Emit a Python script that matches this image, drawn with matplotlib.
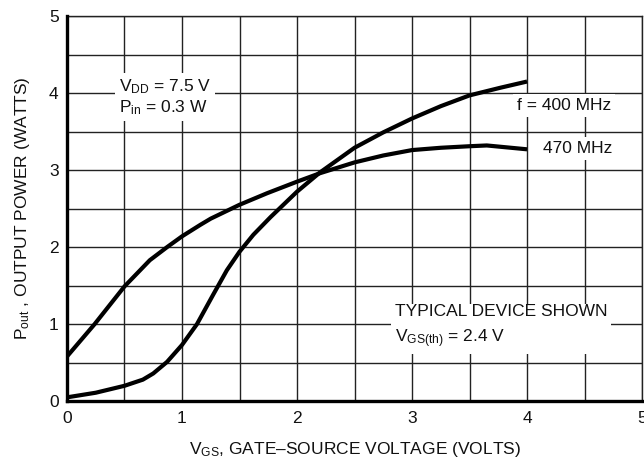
import numpy as np
import matplotlib.pyplot as plt
from matplotlib.ticker import MultipleLocator

plt.rcParams['font.family'] = ['Liberation Sans', 'DejaVu Sans']
plt.rcParams['mathtext.fontset'] = 'custom'
plt.rcParams['mathtext.rm'] = 'Liberation Sans'
plt.rcParams['mathtext.it'] = 'Liberation Sans'

# Output power vs gate-source voltage, two frequencies
vgs_400 = [0.0, 0.25, 0.5, 0.66, 0.75, 0.87, 1.0, 1.13, 1.27, 1.39, 1.5, 1.62, 1.77,
           2.0, 2.2, 2.5, 2.75, 3.0, 3.25, 3.5, 3.77, 4.0]
pout_400 = [0.05, 0.11, 0.20, 0.28, 0.36, 0.51, 0.73, 1.0, 1.38, 1.70, 1.94, 2.16, 2.39,
            2.72, 2.97, 3.29, 3.49, 3.67, 3.83, 3.97, 4.07, 4.15]

vgs_470 = [0.0, 0.24, 0.5, 0.72, 0.87, 1.0, 1.16, 1.25, 1.5, 1.74, 2.0, 2.2,
           2.5, 2.75, 3.0, 3.25, 3.5, 3.65, 4.0]
pout_470 = [0.58, 1.0, 1.49, 1.83, 2.0, 2.14, 2.29, 2.37, 2.55, 2.70, 2.85, 2.96,
            3.10, 3.19, 3.26, 3.29, 3.31, 3.32, 3.27]

ticks = [0, 1, 2, 3, 4, 5]

fig = plt.figure(figsize=(6.44, 4.72), dpi=100)
ax = fig.add_axes([0.104, 0.150, 0.893, 0.816])

for xs, ys in [(vgs_400, pout_400), (vgs_470, pout_470)]:
    ax.plot(xs, ys, color='black', lw=3.0, solid_capstyle='butt',
            solid_joinstyle='round', zorder=4)

ax.set_xlim(0, 5)
ax.set_ylim(0, 5)
ax.set_xticks(ticks)
ax.set_yticks(ticks)
ax.xaxis.set_minor_locator(MultipleLocator(0.5))
ax.yaxis.set_minor_locator(MultipleLocator(0.5))
ax.grid(True, which='both', color='#222222', lw=1.0, zorder=1)
ax.set_axisbelow(True)
ax.tick_params(which='both', length=0, labelsize=12.5, colors='#111111')
ax.tick_params(axis='x', pad=7)
ax.tick_params(axis='y', pad=6)

for side in ['left', 'bottom']:
    ax.spines[side].set_linewidth(2.4)
    ax.spines[side].set_zorder(5)
for side in ['top', 'right']:
    ax.spines[side].set_linewidth(1.0)
    ax.spines[side].set_color('#222222')

box = dict(facecolor='white', edgecolor='none', pad=3)
txt = dict(fontsize=12.5, color='#111111', zorder=3, bbox=box)

ax.text(0.45, 3.75, r'V$_{\rm DD}$ = 7.5 V' + '\n' + r'P$_{\rm in}$ = 0.3 W',
        linespacing=1.2, **txt)
ax.text(3.91, 3.78, 'f = 400 MHz', **txt)
ax.text(4.14, 3.22, '470 MHz', **txt)
ax.text(2.85, 0.77, 'TYPICAL DEVICE SHOWN\n' + r'V$_{\rm GS(th)}$ = 2.4 V',
        linespacing=1.55, **txt)

ax.set_xlabel(r'V$_{\rm GS}$, GATE–SOURCE VOLTAGE (VOLTS)', fontsize=12.5,
              labelpad=10, color='#111111')
ax.set_ylabel(r'P$_{\rm out}$ , OUTPUT POWER (WATTS)', fontsize=12.5,
              labelpad=12, color='#111111')

fig.savefig('out.png', dpi=100)
